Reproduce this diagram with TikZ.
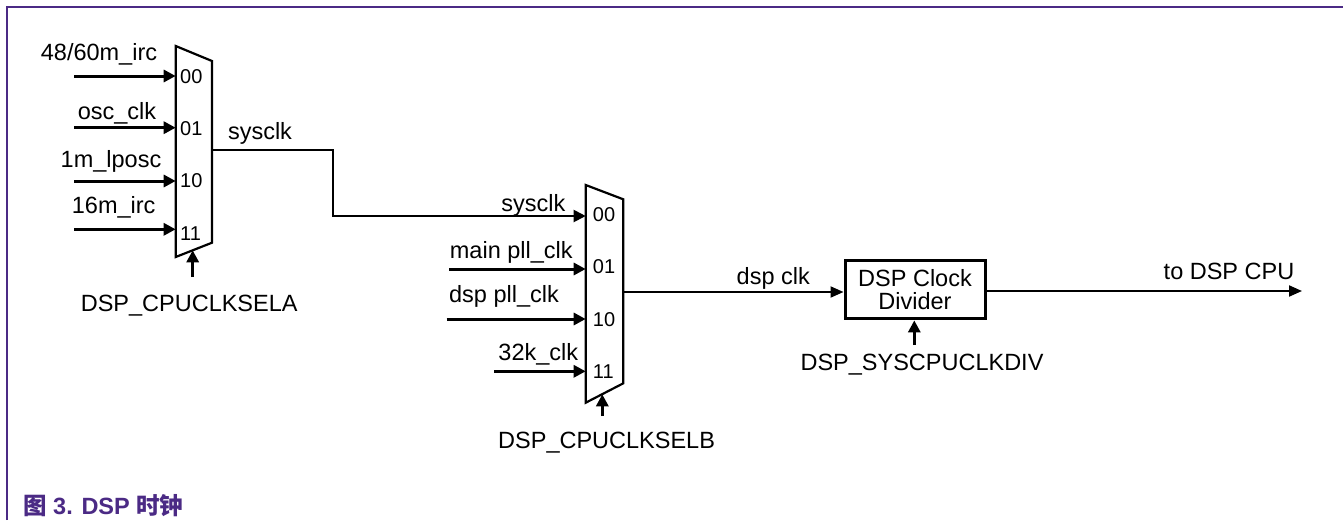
\documentclass[tikz,border=0pt]{standalone}
\usepackage{fontspec}
\setmainfont{Liberation Sans}
\newfontfamily\cjk{Noto Sans CJK SC}
\usetikzlibrary{arrows.meta}
\definecolor{nxppurple}{HTML}{4B2A85}
\begin{document}
\begin{tikzpicture}[x=1pt,y=-1pt,
  lbl/.style={font=\fontsize{23.5}{23.3}\selectfont, inner sep=0pt, anchor=base},
  port/.style={font=\fontsize{20}{22}\selectfont, inner sep=0pt, anchor=base west},
  inarrow/.style={line width=3pt, -{Triangle[length=12pt,width=12pt]}},
  selarrow/.style={line width=3pt, -{Triangle[length=12pt,width=12pt]}},
  sig/.style={line width=2pt},
  sigarrow/.style={line width=2pt, -{Triangle[length=13pt,width=11pt]}},
  muxshape/.style={line width=2.2pt, fill=white, line join=miter},
  frameline/.style={line width=2pt, draw=nxppurple}
]
\useasboundingbox (0,0) rectangle (1343,520);
\fill[white] (0,0) rectangle (1343,520);
\draw[frameline] (7,520) -- (7,7) -- (1343,7);

% ---------- Mux A ----------
\draw[muxshape] (175.7,46) -- (212,61) -- (212,242.7) -- (175.7,257) -- cycle;
\coordinate (muxAout) at (212,150);
\coordinate (aIn0) at (175.7,76);
\coordinate (aIn1) at (175.7,127.7);
\coordinate (aIn2) at (175.7,181);
\coordinate (aIn3) at (175.7,229.3);
\coordinate (aSrc0) at (74,76);
\coordinate (aSrc1) at (74,127.7);
\coordinate (aSrc2) at (74,181);
\coordinate (aSrc3) at (74,229.3);
\coordinate (aSelTip) at (192.7,250.3);
\coordinate (aSelSrc) at (192.7,277);

\node[port] (ap0) at (180,83.3) {00};
\node[port] (ap1) at (180,135) {01};
\node[port] (ap2) at (180,187.7) {10};
\node[port] (ap3) at (180,240) {11};

\node[lbl] (la0) at (99,60) {48/60m\_irc};
\node[lbl] (la1) at (117,119) {osc\_clk};
\node[lbl] (la2) at (111,167) {1m\_lposc};
\node[lbl] (la3) at (113.7,213.3) {16m\_irc};
\node[lbl] (lsysA) at (260,139.3) {sysclk};
\node[lbl] (lselA) at (189.2,311) {DSP\_CPUCLKSELA};

\draw[inarrow] (aSrc0) -- (aIn0);
\draw[inarrow] (aSrc1) -- (aIn1);
\draw[inarrow] (aSrc2) -- (aIn2);
\draw[inarrow] (aSrc3) -- (aIn3);
\draw[selarrow] (aSelSrc) -- (aSelTip);

% ---------- Mux B ----------
\draw[muxshape] (585.7,185) -- (623.3,199.3) -- (623.3,383.3) -- (585.7,402.7) -- cycle;
\coordinate (bIn0) at (585.7,216);
\coordinate (bIn1) at (585.7,269);
\coordinate (bIn2) at (585.7,319);
\coordinate (bIn3) at (585.7,371.3);
\coordinate (bSrc1) at (449,269);
\coordinate (bSrc2) at (446.7,319);
\coordinate (bSrc3) at (494,371.3);
\coordinate (bOut) at (623.3,292);
\coordinate (bSelTip) at (602.3,394.3);
\coordinate (bSelSrc) at (602.3,416);

\node[port] (bp0) at (592.7,221.7) {00};
\node[port] (bp1) at (592.7,273.3) {01};
\node[port] (bp2) at (592.7,326.7) {10};
\node[port] (bp3) at (592.7,378.3) {11};

\node[lbl] (lb0) at (533.3,211.7) {sysclk};
\node[lbl] (lb1) at (511.3,258.3) {main pll\_clk};
\node[lbl] (lb2) at (504,302.7) {dsp pll\_clk};
\node[lbl] (lb3) at (538.3,360) {32k\_clk};
\node[lbl] (lselB) at (606.6,448) {DSP\_CPUCLKSELB};

\draw[sig,-{Triangle[length=12pt,width=12pt]}] (muxAout) -- (333,150) -- (333,216) -- (bIn0);
\draw[inarrow] (bSrc1) -- (bIn1);
\draw[inarrow] (bSrc2) -- (bIn2);
\draw[inarrow] (bSrc3) -- (bIn3);
\draw[selarrow] (bSelSrc) -- (bSelTip);

% ---------- Divider ----------
\node[draw, line width=3pt, minimum width=140pt, minimum height=58pt, inner sep=0pt,
      align=center, font=\fontsize{23.5}{23.3}\selectfont] (div) at (915,289.9)
      {DSP Clock\\Divider};
\node[lbl] (ldsp) at (773.3,284) {dsp clk};
\node[lbl] (lseldiv) at (922,370) {DSP\_SYSCPUCLKDIV};
\node[lbl] (lcpu) at (1229,279.3) {to DSP CPU};
\coordinate (cpu) at (1302,291);
\coordinate (divSelSrc) at (914.3,345);

\draw[sigarrow] (bOut) -- (div.west |- bOut);
\draw[sigarrow] (div.east |- cpu) -- (cpu);
\draw[selarrow] (divSelSrc) -- (div.south -| divSelSrc);

% ---------- Caption ----------
\node[font=\bfseries\fontsize{23.5}{26}\selectfont, text=nxppurple, inner sep=0pt, anchor=base west]
  (caption) at (23,514) {{\cjk\bfseries 图} 3. DSP {\cjk\bfseries 时钟}};
\end{tikzpicture}
\end{document}
